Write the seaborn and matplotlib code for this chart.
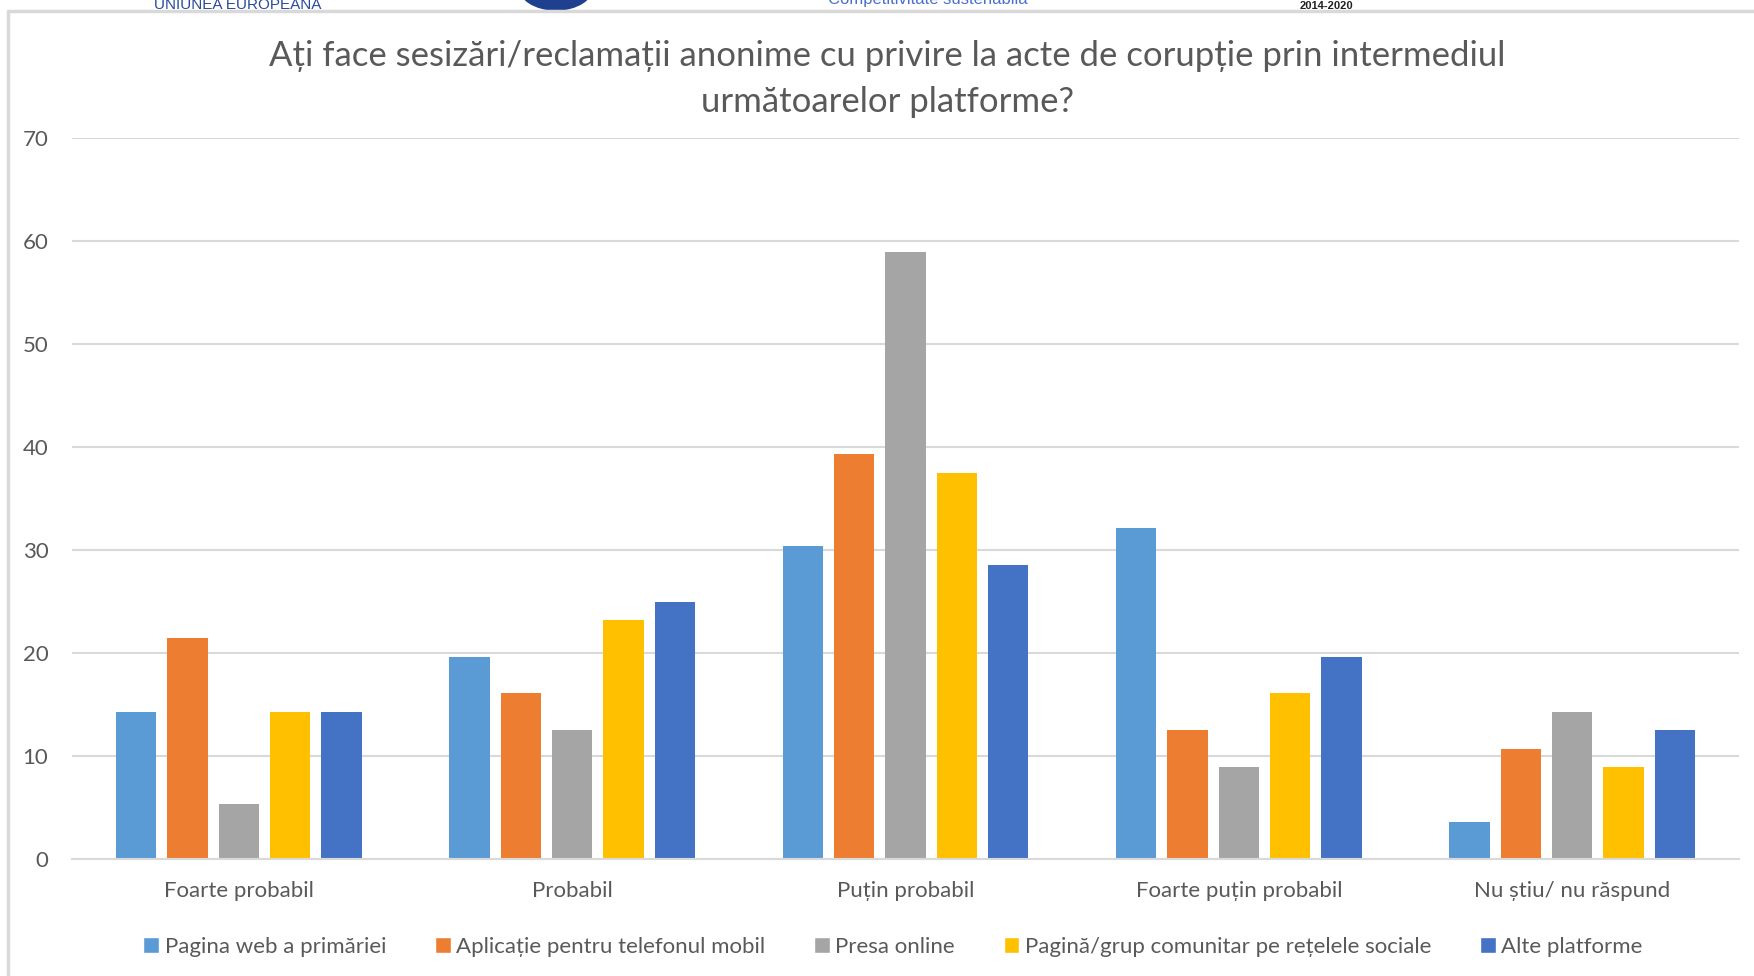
import numpy as np
import pandas as pd
import matplotlib
matplotlib.use("Agg")
import matplotlib.pyplot as plt
from matplotlib.lines import Line2D
from matplotlib.patches import Ellipse
import seaborn as sns

categories = ["Foarte probabil", "Probabil", "Puțin probabil",
              "Foarte puțin probabil", "Nu știu/ nu răspund"]
series = ["Pagina web a primăriei", "Aplicație pentru telefonul mobil",
          "Presa online", "Pagină/grup comunitar pe rețelele sociale",
          "Alte platforme"]
pagina_web = [14.29, 19.64, 30.36, 32.14, 3.57]
aplicatie = [21.43, 16.07, 39.29, 12.50, 10.71]
presa = [5.36, 12.50, 58.93, 8.93, 14.29]
grup = [14.29, 23.21, 37.50, 16.07, 8.93]
alte = [14.29, 25.00, 28.57, 19.64, 12.50]
colors = ["#5B9BD5", "#ED7D31", "#A5A5A5", "#FFC000", "#4472C4"]
yticks = [0, 10, 20, 30, 40, 50, 60, 70]
title = "Ați face sesizări/reclamații anonime cu privire la acte de corupție prin intermediul\nurmătoarelor platforme?"

values = [pagina_web, aplicatie, presa, grup, alte]
rows = []
for s, vals in zip(series, values):
    for c, v in zip(categories, vals):
        rows.append({"cat": c, "series": s, "val": v})
df = pd.DataFrame(rows)

sns.set_theme(style="white")
plt.rcParams["font.family"] = ["Lato", "DejaVu Sans"]
text_color = "#595959"

fig = plt.figure(figsize=(17.54, 9.76), dpi=100)
ax = fig.add_axes([72/1754, 1-859/976, (1739-72)/1754, (859-138)/976])

sns.barplot(data=df, x="cat", y="val", hue="series", order=categories,
            hue_order=series, palette=colors, width=0.77, saturation=1,
            ax=ax, legend=True, errorbar=None)

# narrow bars to leave gaps within groups
slot = 0.77 / 5
bw = 0.121
for p in ax.patches:
    w = p.get_width()
    if w <= 0 or abs(w - slot) > 0.02:
        continue
    cx = p.get_x() + w / 2
    p.set_x(cx - bw / 2)
    p.set_width(bw)
    p.set_linewidth(0)

ax.set_ylim(0, 70)
ax.set_xlim(-0.5, 4.5)
ax.set_yticks(yticks)
ax.set_yticklabels([str(t) for t in yticks])
ax.yaxis.grid(True, color="#d9d9d9", linewidth=1.5)
ax.set_axisbelow(True)
for s in ["top", "right", "left"]:
    ax.spines[s].set_visible(False)
ax.spines["bottom"].set_color("#d9d9d9")
ax.spines["bottom"].set_linewidth(1.5)
ax.tick_params(axis="both", length=0, labelsize=16, colors=text_color)
ax.tick_params(axis="x", pad=16)
ax.tick_params(axis="y", pad=17)
ax.set_xlabel("")
ax.set_ylabel("")

handles, labels = ax.get_legend_handles_labels()
ax.get_legend().remove()
fig.legend(handles, labels, loc="center", bbox_to_anchor=(0.5 + 16/1754, 1-947/976),
           ncol=5, frameon=False, fontsize=16, handlelength=0.7,
           handleheight=0.7, handletextpad=0.25, columnspacing=2.2,
           labelcolor=text_color)

fig.text(0.506, 1-79/976, title, ha="center", va="center", fontsize=25,
         color=text_color, linespacing=1.5)

# frame of the embedded chart
fig.add_artist(Line2D([8/1754, 1], [1-11/976, 1-11/976], color="#d9d9d9",
                      lw=2.5, transform=fig.transFigure))
fig.add_artist(Line2D([8/1754, 8/1754], [0, 1-11/976], color="#d9d9d9",
                      lw=2.5, transform=fig.transFigure))

# cut-off header of the page
fig.text(154/1754, 1-9/976, "UNIUNEA EUROPEANĂ", ha="left", va="baseline",
         fontsize=11, color="#2a4a9a", family=["Liberation Sans", "DejaVu Sans"])
fig.text(1300/1754, 1-9/976, "2014-2020", ha="left", va="baseline",
         fontsize=8, color="#222222", fontweight="bold",
         family=["Liberation Sans", "DejaVu Sans"])
fig.add_artist(Ellipse((556/1754, 1-(-14)/976), 75/1754, 48/976,
                       transform=fig.transFigure, color="#1f3f8f"))
fig.text(828/1754, 1-4/976, "Competitivitate sustenabilă", ha="left",
         va="baseline", fontsize=12, color="#4a6fd0",
         family=["Liberation Sans", "DejaVu Sans"])

fig.savefig("out.png", dpi=100)
